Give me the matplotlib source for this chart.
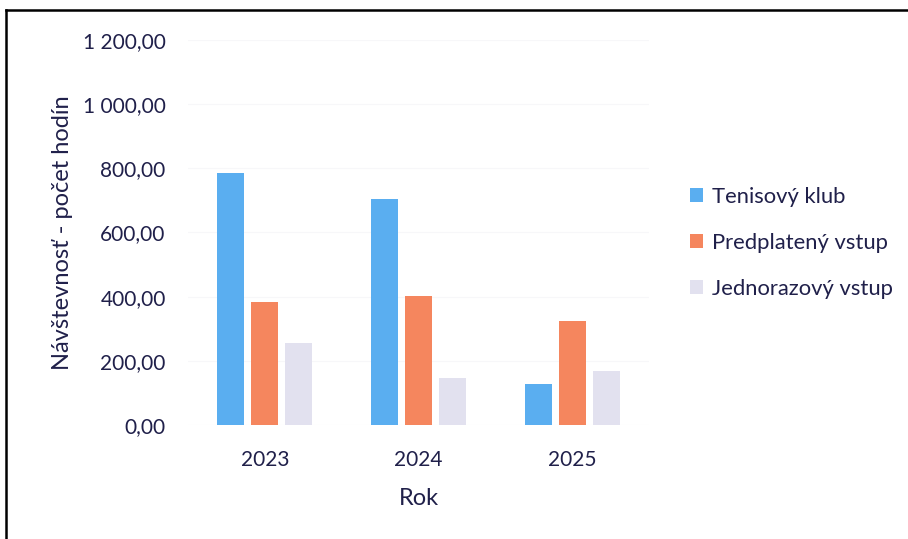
import numpy as np
import matplotlib.pyplot as plt
from matplotlib.lines import Line2D
from matplotlib.patches import Patch
from matplotlib.ticker import FuncFormatter

# Údaje
roky = ["2023", "2024", "2025"]
tenisovy_klub = [786, 704, 127]
predplateny_vstup = [384, 403, 323]
jednorazovy_vstup = [256, 147, 167]

serie = ["Tenisový klub", "Predplatený vstup", "Jednorazový vstup"]
farby = ["#5aaef0", "#f5865e", "#e2e1ef"]
text_farba = "#20204a"

plt.rcParams['font.family'] = ['Lato', 'DejaVu Sans']

fig = plt.figure(figsize=(9.08, 5.39), dpi=100)
ax = fig.add_axes([0.207, 0.2115, 0.508, 0.7145])

x = np.arange(len(roky))
sirka = 0.176
krok = 0.221
for i, (hodnoty, farba) in enumerate(zip([tenisovy_klub, predplateny_vstup, jednorazovy_vstup], farby)):
    ax.bar(x + (i - 1) * krok, hodnoty, width=sirka, color=farba, label=serie[i], zorder=2)

ax.set_xlim(-0.5, 2.5)
ax.set_ylim(0, 1200)
ax.set_yticks(np.arange(0, 1201, 200))
ax.yaxis.set_major_formatter(FuncFormatter(lambda v, p: f"{v:,.2f}".replace(",", " ").replace(".", ",")))
ax.set_xticks(x)
ax.set_xticklabels(roky)
ax.tick_params(axis='y', length=0, pad=16, labelsize=15, labelcolor=text_farba)
ax.tick_params(axis='x', length=0, pad=18, labelsize=15, labelcolor=text_farba)
for s in ax.spines.values():
    s.set_visible(False)
ax.grid(axis='y', color="#f7f7f9", lw=0.8, zorder=0)

ax.set_ylabel("Návštevnosť - počet hodín", fontsize=17, color=text_farba, labelpad=7)
ax.set_xlabel("Rok", fontsize=17, color=text_farba, labelpad=13)

handles = [Patch(facecolor=f, edgecolor='none') for f in farby]
ax.legend(handles, serie, loc='center left', bbox_to_anchor=(1.045, 0.473), frameon=False,
          fontsize=15.8, labelcolor=text_farba, handlelength=0.6, handleheight=0.6,
          handletextpad=0.4, labelspacing=1.2)

# rám okolo grafu (horná a ľavá čiara)
fig.add_artist(Line2D([6 / 908, 6 / 908], [0, 1 - 10 / 539], color='black', lw=1.8, transform=fig.transFigure))
fig.add_artist(Line2D([6 / 908, 1], [1 - 10 / 539, 1 - 10 / 539], color='black', lw=1.8, transform=fig.transFigure))

fig.savefig("out.png", dpi=100)
